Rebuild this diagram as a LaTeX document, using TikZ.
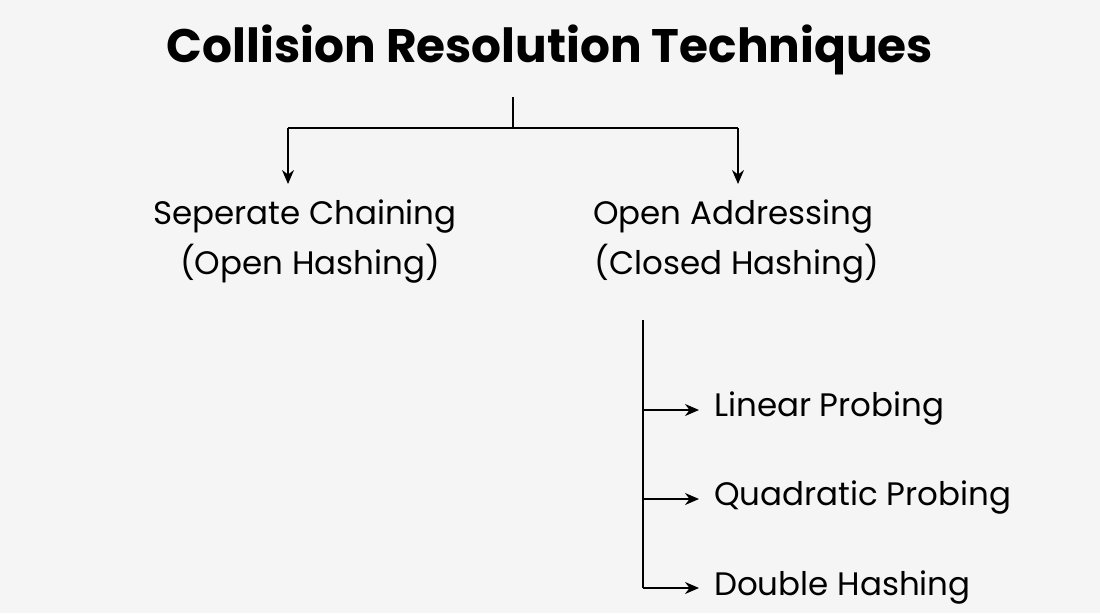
\documentclass[tikz,border=0pt]{standalone}
\usepackage{fontspec}
\setmainfont{Poppins}
\usetikzlibrary{arrows.meta}
\definecolor{bg}{HTML}{F5F5F5}
\begin{document}
\begin{tikzpicture}[x=1pt,y=-1pt,
  lbl/.style={font=\fontsize{32.5}{38}\selectfont, inner sep=0pt},
  conn/.style={line width=1.6pt, -{Stealth[length=14pt,width=12pt]}},
  ln/.style={line width=1.6pt}]
\fill[bg] (0,0) rectangle (1100,613);
\useasboundingbox (0,0) rectangle (1100,613);
\node[font=\bfseries\fontsize{47}{54}\selectfont, inner sep=0pt] (title) at (550,50) {Collision Resolution Techniques};
\coordinate (top) at (513,97);
\coordinate (mid) at (513,128);
\coordinate (l) at (288,128);
\coordinate (r) at (738,128);
\coordinate (la) at (288,184);
\coordinate (ra) at (738,184);
\node[lbl] (sc) at (305,217) {Seperate Chaining};
\node[lbl] (oh) at (310,264) {(Open Hashing)};
\node[lbl] (oa) at (733,217) {Open Addressing};
\node[lbl] (ch) at (737,264) {(Closed Hashing)};
\draw[ln] (top) -- (mid);
\draw[ln] (l) -- (r);
\draw[conn] (l) -- (la);
\draw[conn] (r) -- (ra);
\coordinate (vt) at (643,320);
\coordinate (b1) at (643,410);
\coordinate (b2) at (643,499);
\coordinate (b3) at (643,588);
\node[lbl, anchor=west] (lp) at (714,409) {Linear Probing};
\node[lbl, anchor=west] (qp) at (714,498) {Quadratic Probing};
\node[lbl, anchor=west] (dh) at (714,588) {Double Hashing};
\draw[ln] (vt) -- (b3);
\draw[conn] (b1) -- (699,410);
\draw[conn] (b2) -- (699,499);
\draw[conn] (b3) -- (699,588);
\end{tikzpicture}
\end{document}
